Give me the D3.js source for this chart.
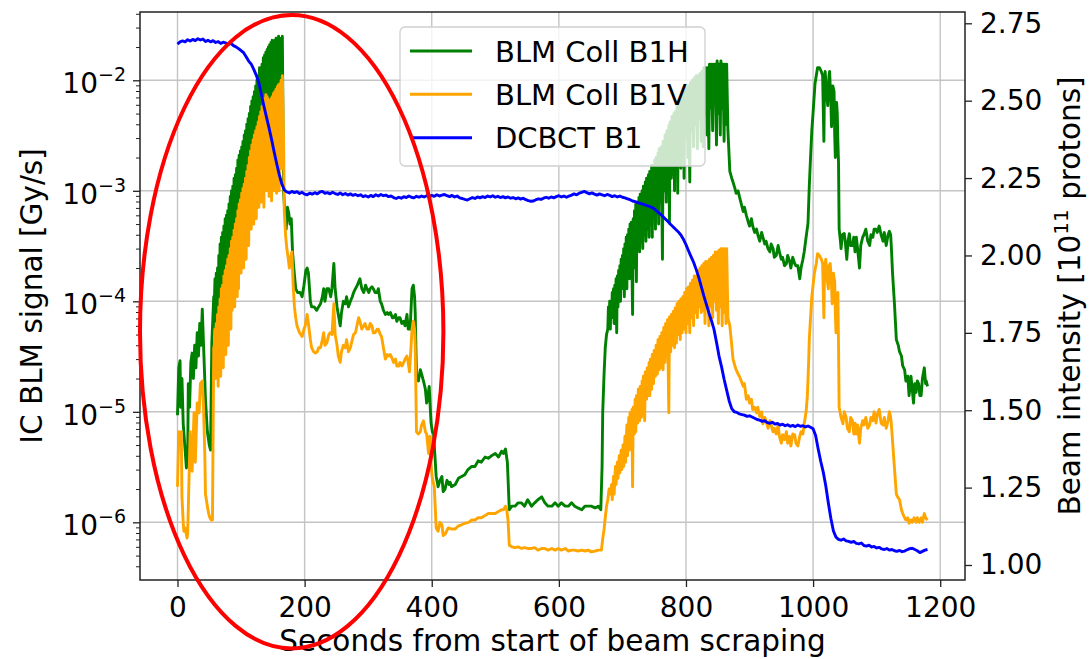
<!DOCTYPE html>
<html>
<head>
<meta charset="utf-8">
<script src="https://cdn.jsdelivr.net/npm/d3@7"></script>
<style>
  body { margin: 0; background: #ffffff; }
  svg { display: block; }
  text { font-family: "DejaVu Sans", sans-serif; fill: #000; }
</style>
</head>
<body>
<svg id="chart" width="1089" height="659"></svg>
<script>
// ---------------- data ----------------
const seriesNames = ["BLM Coll B1H", "BLM Coll B1V", "DCBCT B1"];
const seriesColors = ["#008000", "#ffa500", "#0000ff"];
const xTicks = [0, 200, 400, 600, 800, 1000, 1200];
const leftDecades = [1e-6, 1e-5, 1e-4, 1e-3, 1e-2];
const leftExponents = ["−6", "−5", "−4", "−3", "−2"];
const rightTicks = [1.00, 1.25, 1.50, 1.75, 2.00, 2.25, 2.50, 2.75];
const xLabel = "Seconds from start of beam scraping";
const yLeftLabel = "IC BLM signal [Gy/s]";

// BLM Coll B1H  [seconds, Gy/s]
const b1h = [
[0,9.3e-6],[2,2.5e-5],[4,2.9e-5],[5,1.1e-5],[7,2.0e-5],[9,7.8e-6],[12,4.5e-6],[14,3.1e-6],[16,3.5e-6],[17,1.8e-5],[19,1.1e-5],[21,2.8e-5],[23,3.4e-5],[25,2.0e-5],[27,4.0e-5],[29,2.5e-5],[31,5.2e-5],[33,3.2e-5],[35,6.3e-5],[37,4.0e-5],[39,8.5e-5],[41,4.0e-5],[44,1.3e-5],[47,6.6e-6],[50,5.0e-6],[52,4.5e-6],[54,4.2e-5],[56,7.9e-5],[57,1.1e-4],
[58,1.0e-4],[59,1.6e-4],[60,5.2e-5],[61,1.8e-4],[62,7.1e-5],[63,2.0e-4],[64,7.9e-5],[65,2.6e-4],[66,1.1e-4],[67,3.3e-4],[68,9.5e-5],[69,3.8e-4],[70,1.4e-4],[71,4.2e-4],[72,1.6e-4],[73,4.8e-4],[74,2.0e-4],[75,5.6e-4],[76,1.5e-4],[77,6.0e-4],[78,2.5e-4],[79,6.6e-4],[80,1.9e-4],[81,7.6e-4],[82,2.8e-4],[83,8.9e-4],[84,3.2e-4],[85,1.0e-3],[86,3.0e-4],[87,1.1e-3],[88,4.5e-4],[89,1.3e-3],[90,4.0e-4],[91,1.4e-3],[92,5.0e-4],[93,1.6e-3],[94,6.3e-4],[95,1.9e-3],[96,6.0e-4],[97,2.1e-3],[98,8.9e-4],[99,2.3e-3],[100,7.9e-4],[101,2.5e-3],[102,1.0e-3],[103,2.8e-3],[104,1.1e-3],[105,3.2e-3],[106,1.3e-3],[107,3.5e-3],[108,1.1e-3],[109,4.0e-3],[110,1.6e-3],[111,4.5e-3],[112,1.4e-3],[113,5.0e-3],[114,2.0e-3],[115,5.8e-3],[116,1.7e-3],[117,6.5e-3],[118,2.5e-3],[119,7.1e-3],[120,2.8e-3],[121,7.9e-3],[122,2.5e-3],[123,8.9e-3],[124,3.5e-3],[125,1.0e-2],[126,4.0e-3],[127,1.1e-2],[128,3.5e-3],[129,1.3e-2],[130,5.0e-3],[131,1.3e-2],[132,4.5e-3],[133,1.4e-2],[134,5.6e-3],[135,1.6e-2],[136,6.3e-3],[137,1.7e-2],[138,5.9e-3],[139,1.8e-2],[140,7.9e-3],[141,1.9e-2],[142,7.1e-3],[143,2.0e-2],[144,8.9e-3],[145,2.1e-2],[146,6.3e-3],[147,2.2e-2],[148,1.0e-2],[149,2.3e-2],[150,6.5e-3],[151,2.2e-2],[152,1.1e-2],[153,2.3e-2],[154,7.9e-3],[155,2.4e-2],[156,1.3e-2],[157,2.3e-2],[158,9.3e-3],[159,2.5e-2],[160,1.4e-2],[161,2.4e-2],[162,9.3e-3],[163,2.4e-2],[164,1.6e-2],[165,2.5e-2],
[166,4.0e-3],[167,9.5e-4],[169,6.3e-4],[171,4.5e-4],[173,7.1e-4],[175,6.3e-4],[177,5.0e-4],[179,5.6e-4],[181,2.8e-4],[183,2.0e-4],[186,1.3e-4],[189,1.2e-4],[193,1.2e-4],[196,1.1e-4],[199,1.4e-4],[202,1.9e-4],[204,2.0e-4],[206,1.8e-4],[209,1.0e-4],[211,8.9e-5],[215,8.9e-5],[219,8.3e-5],[222,8.9e-5],[225,9.5e-5],[228,1.1e-4],[230,1.3e-4],[232,1.0e-4],[235,1.3e-4],[238,1.3e-4],[241,1.1e-4],[243,1.3e-4],[246,2.2e-4],[248,1.3e-4],[251,8.9e-5],[253,7.6e-5],[256,6.0e-5],[258,7.9e-5],[261,1.0e-4],[264,9.5e-5],[266,1.1e-4],[269,8.9e-5],[272,1.0e-4],[275,1.1e-4],[277,1.2e-4],[280,1.3e-4],[283,1.4e-4],[285,1.5e-4],[287,1.6e-4],[290,1.3e-4],[293,1.2e-4],[296,1.4e-4],[298,1.3e-4],[301,1.2e-4],[303,1.3e-4],[306,1.35e-4],[308,1.3e-4],[311,1.2e-4],[314,1.2e-4],[316,1.3e-4],[319,1.0e-4],[321,9.5e-5],[324,8.3e-5],[327,7.6e-5],[330,7.9e-5],[332,7.6e-5],[335,7.9e-5],[338,7.1e-5],[340,7.1e-5],[343,7.6e-5],[345,6.6e-5],[348,7.1e-5],[350,7.1e-5],[353,6.3e-5],[356,6.6e-5],[358,6.0e-5],[361,7.6e-5],[363,5.6e-5],[366,5.6e-5],[368,1.0e-4],[369,1.3e-4],[371,1.4e-4],[373,1.1e-4],[374,7.9e-5],[376,2.1e-5],[379,1.9e-5],[382,2.4e-5],[384,2.2e-5],[387,1.9e-5],[390,1.6e-5],[392,1.2e-5],[394,1.4e-5],[396,1.7e-5],[398,1.0e-5],[399,7.9e-6],[401,6.6e-6],[403,6.3e-6],[405,4.0e-6],[407,2.6e-6],[410,2.1e-6],[413,2.4e-6],[416,2.6e-6],[418,1.9e-6],[421,2.0e-6],[424,2.4e-6],[427,2.2e-6],[429,2.3e-6],
[431,2.1e-6],[437,2.2e-6],[442,2.5e-6],[447,2.6e-6],[452,2.7e-6],[457,3.0e-6],[463,3.2e-6],[468,3.2e-6],[473,3.6e-6],[478,3.5e-6],[484,3.9e-6],[489,3.8e-6],[494,4.0e-6],[500,4.2e-6],[505,3.9e-6],[510,4.4e-6],[513,4.2e-6],[516,4.6e-6],[519,3.5e-6],[522,1.3e-6],[526,1.4e-6],[531,1.4e-6],[536,1.5e-6],[541,1.5e-6],[546,1.4e-6],[551,1.6e-6],[557,1.4e-6],[562,1.5e-6],[567,1.6e-6],[573,1.7e-6],[578,1.5e-6],[583,1.4e-6],[589,1.4e-6],[594,1.5e-6],[599,1.4e-6],[604,1.5e-6],[610,1.4e-6],[615,1.4e-6],[620,1.5e-6],[625,1.4e-6],[630,1.35e-6],[636,1.3e-6],[641,1.4e-6],[646,1.4e-6],[651,1.4e-6],[657,1.35e-6],[662,1.4e-6],[666,1.3e-6],[668,3.2e-6],[669,9.8e-6],[671,2.1e-5],[673,3.8e-5],[675,5.0e-5],[677,5.6e-5],
[678,8.9e-5],[679,6.3e-5],[680,1.0e-4],[681,5.6e-5],[682,1.0e-4],[683,7.1e-5],[684,1.2e-4],[685,7.9e-5],[686,1.3e-4],[687,6.3e-5],[688,1.4e-4],[689,8.9e-5],[690,1.6e-4],[691,5.2e-5],[692,1.7e-4],[693,8.9e-5],[694,1.9e-4],[695,1.1e-4],[696,2.1e-4],[697,1.0e-4],[698,2.4e-4],[699,1.3e-4],[700,2.6e-4],[701,1.4e-4],[702,3.0e-4],[703,1.1e-4],[704,3.3e-4],[705,1.6e-4],[706,3.8e-4],[707,1.3e-4],[708,4.0e-4],[709,1.8e-4],[710,4.5e-4],[711,1.6e-4],[712,5.0e-4],[713,2.2e-4],[714,5.2e-4],[716,7.6e-5],[717,5.6e-4],[718,2.0e-4],[719,6.6e-4],[720,2.5e-4],[721,7.6e-4],[722,1.5e-4],[723,7.9e-4],[725,3.2e-4],[726,8.7e-4],[727,2.8e-4],[728,9.3e-4],[730,3.5e-4],[731,1.0e-3],[732,3.0e-4],[733,1.1e-3],[735,4.0e-4],[736,1.2e-3],[737,3.5e-4],[738,1.3e-3],[740,4.5e-4],[741,1.4e-3],[742,3.8e-4],[743,1.5e-3],[745,5.0e-4],[746,1.7e-3],[747,3.8e-4],[748,1.7e-3],[750,6.3e-4],[751,1.9e-3],[752,4.5e-4],[753,2.0e-3],[755,6.3e-4],[756,2.2e-3],[757,5.0e-4],[758,2.4e-3],[760,7.9e-4],[761,2.5e-3],[763,2.4e-4],[764,2.8e-3],[766,1.0e-3],[767,3.2e-3],[769,7.9e-4],[770,3.5e-3],[772,1.1e-3],[773,3.9e-3],[774,5.1e-4],[775,4.2e-3],[777,1.3e-3],[778,4.7e-3],[780,1.4e-3],[781,5.0e-3],[782,1.0e-3],[783,5.2e-3],[785,1.8e-3],[786,5.8e-3],[787,9.5e-4],[788,6.3e-3],[790,2.0e-3],[791,6.8e-3],[792,1.6e-3],[793,7.2e-3],[795,2.5e-3],[796,7.6e-3],[797,1.3e-3],[798,7.9e-3],[800,3.2e-3],[801,8.5e-3],[803,2.0e-3],[804,8.9e-3],[806,1.2e-3],[807,9.5e-3],[809,3.5e-3],[810,1.0e-2],[812,2.5e-3],[813,1.05e-2],[815,4.0e-3],[816,1.1e-2],[818,2.4e-3],[819,1.1e-2],[821,4.5e-3],[822,1.15e-2],[824,2.8e-3],[825,1.2e-2],[827,2.5e-3],[828,1.3e-2],[830,5.0e-3],[831,1.3e-2],[833,3.2e-3],[834,1.3e-2],[836,2.4e-3],[837,1.4e-2],[839,5.6e-3],[840,1.4e-2],[842,3.5e-3],[843,1.4e-2],[845,6.3e-3],[846,1.4e-2],[848,2.6e-3],[849,1.5e-2],[851,5.0e-3],[852,1.4e-2],[854,3.2e-3],[855,1.5e-2],[857,5.6e-3],[858,1.4e-2],[860,2.8e-3],[861,1.4e-2],[863,4.0e-3],[864,1.4e-2],[866,3.5e-3],
[869,1.5e-3],[872,1.3e-3],[874,1.2e-3],[877,1.05e-3],[879,9.5e-4],[882,1.0e-3],[884,8.9e-4],[887,7.6e-4],[890,6.5e-4],[892,7.1e-4],[895,6.0e-4],[898,5.2e-4],[900,4.8e-4],[903,5.6e-4],[905,4.8e-4],[908,4.2e-4],[911,4.5e-4],[913,4.0e-4],[916,3.5e-4],[919,4.2e-4],[921,3.8e-4],[924,3.3e-4],[926,3.5e-4],[929,3.0e-4],[932,2.8e-4],[934,3.3e-4],[937,3.0e-4],[939,2.5e-4],[942,2.6e-4],[945,3.2e-4],[947,2.8e-4],[950,2.4e-4],[952,2.5e-4],[955,2.1e-4],[958,2.2e-4],[960,2.6e-4],[963,2.3e-4],[965,2.0e-4],[968,2.5e-4],[971,2.2e-4],[973,2.1e-4],[976,2.1e-4],[979,1.6e-4],[981,2.0e-4],[984,2.4e-4],[986,2.8e-4],[989,3.8e-4],[992,5.1e-4],[994,1.1e-3],[996,2.0e-3],[998,3.5e-3],[1000,5.1e-3],[1002,7.6e-3],[1003,9.3e-3],[1005,1.1e-2],[1007,1.3e-2],[1010,1.3e-2],[1013,1.2e-2],[1015,1.1e-2],[1017,2.8e-3],[1018,1.0e-2],[1019,1.2e-2],[1021,7.9e-3],[1023,5.9e-3],[1025,1.1e-2],[1026,1.2e-2],[1028,6.3e-3],[1029,3.8e-3],[1031,8.9e-3],[1033,7.9e-3],[1034,3.2e-3],[1035,2.0e-3],[1037,6.3e-3],[1038,5.1e-3],[1039,2.8e-3],[1040,1.8e-3],[1041,4.5e-4],[1043,3.5e-4],[1044,3.0e-4],[1046,4.0e-4],[1049,4.1e-4],[1051,3.3e-4],[1053,2.4e-4],[1055,3.5e-4],[1057,4.1e-4],[1059,3.2e-4],[1062,3.2e-4],[1064,3.8e-4],[1066,2.8e-4],[1068,3.8e-4],[1070,3.0e-4],[1073,2.0e-4],[1075,3.2e-4],[1078,3.8e-4],[1080,4.0e-4],[1083,4.5e-4],[1086,3.5e-4],[1089,3.2e-4],[1091,4.0e-4],[1094,3.8e-4],[1096,4.5e-4],[1099,4.5e-4],[1101,4.2e-4],[1104,4.8e-4],[1107,4.0e-4],[1110,3.5e-4],[1112,4.2e-4],[1115,3.2e-4],[1118,4.0e-4],[1120,4.3e-4],[1122,4.0e-4],[1123,3.2e-4],[1125,1.8e-4],[1128,9.5e-5],[1131,4.5e-5],[1134,4.0e-5],[1136,3.5e-5],[1139,3.2e-5],[1141,2.6e-5],[1144,2.4e-5],[1146,1.9e-5],[1149,2.1e-5],[1151,1.4e-5],[1153,1.8e-5],[1154,2.1e-5],[1156,1.6e-5],[1158,1.2e-5],[1160,1.8e-5],[1162,1.5e-5],[1164,1.9e-5],[1166,1.8e-5],[1168,1.4e-5],[1170,1.4e-5],[1172,2.0e-5],[1175,2.5e-5],[1177,1.8e-5],[1178,1.9e-5],[1180,1.7e-5]
];

// BLM Coll B1V  [seconds, Gy/s]
const b1v = [
[0,2.1e-6],[2,6.6e-6],[4,5.0e-6],[6,6.6e-6],[7,1.7e-6],[9,1.0e-6],[10,8.3e-7],[12,8.9e-7],[15,7.2e-7],[16,7.9e-7],[18,2.3e-6],[20,6.6e-6],[23,2.9e-6],[26,9.8e-6],[28,3.5e-6],[31,1.2e-5],[34,9.8e-6],[36,1.8e-5],[39,1.9e-5],[41,1.1e-5],[43,4.0e-6],[44,1.8e-6],[47,1.4e-6],[49,1.2e-6],[51,1.1e-6],[53,1.05e-6],[55,1.05e-6],[56,6.3e-6],[57,3.8e-5],
[58,4.0e-5],[59,5.6e-5],[60,2.0e-5],[61,6.3e-5],[62,2.5e-5],[63,7.6e-5],[64,1.7e-5],[65,8.9e-5],[66,3.2e-5],[67,1.05e-4],[68,2.1e-5],[69,1.3e-4],[70,4.0e-5],[71,1.4e-4],[72,2.5e-5],[73,1.7e-4],[74,5.0e-5],[75,1.9e-4],[76,3.3e-5],[77,2.1e-4],[78,6.3e-5],[79,2.4e-4],[80,4.0e-5],[81,2.6e-4],[82,7.9e-5],[83,3.0e-4],[84,5.6e-5],[85,3.5e-4],[86,8.3e-5],[87,3.8e-4],[88,1.3e-4],[89,4.4e-4],[90,8.9e-5],[91,5.0e-4],[92,1.6e-4],[93,5.6e-4],[94,1.1e-4],[95,6.6e-4],[96,1.3e-4],[97,7.6e-4],[98,2.5e-4],[99,8.3e-4],[100,1.8e-4],[101,9.5e-4],[102,3.2e-4],[103,1.05e-3],[104,2.0e-4],[105,1.15e-3],[106,3.5e-4],[107,1.3e-3],[108,2.4e-4],[109,1.5e-3],[110,5.0e-4],[111,1.7e-3],[112,3.2e-4],[113,2.0e-3],[114,6.3e-4],[115,2.3e-3],[116,4.5e-4],[117,2.6e-3],[118,7.9e-4],[119,2.9e-3],[120,5.0e-4],[121,3.2e-3],[122,8.9e-4],[123,3.5e-3],[124,5.6e-4],[125,3.8e-3],[126,1.1e-3],[127,4.2e-3],[128,7.1e-4],[129,4.7e-3],[130,1.3e-3],[131,5.2e-3],[132,7.9e-4],[133,5.8e-3],[134,1.4e-3],[135,6.3e-3],[136,7.1e-4],[137,6.9e-3],[138,2.0e-3],[139,7.4e-3],[140,1.0e-3],[141,7.1e-3],[142,1.6e-3],[143,6.6e-3],[144,8.9e-4],[145,6.5e-3],[146,1.8e-3],[147,6.8e-3],[148,8.1e-4],[149,7.1e-3],[150,2.0e-3],[151,7.6e-3],[152,1.0e-3],[153,7.9e-3],[154,2.2e-3],[155,8.3e-3],[156,9.5e-4],[157,8.7e-3],[158,2.0e-3],[159,9.1e-3],[160,1.0e-3],[161,9.3e-3],[162,2.5e-3],[163,1.0e-2],[164,1.6e-3],[165,1.1e-2],
[167,2.5e-3],[168,6.5e-4],[170,4.0e-4],[172,3.0e-4],[174,2.5e-4],[176,2.0e-4],[178,2.5e-4],[180,2.8e-4],[182,1.4e-4],[184,8.9e-5],[186,7.1e-5],[188,6.0e-5],[192,5.2e-5],[196,4.8e-5],[199,5.6e-5],[201,6.0e-5],[204,7.6e-5],[206,6.3e-5],[209,4.5e-5],[211,3.8e-5],[214,3.5e-5],[217,3.4e-5],[220,3.5e-5],[222,3.8e-5],[225,3.8e-5],[228,4.5e-5],[230,5.2e-5],[232,4.0e-5],[235,4.2e-5],[238,5.0e-5],[240,5.2e-5],[243,5.0e-5],[246,9.5e-5],[248,5.0e-5],[251,4.0e-5],[253,3.2e-5],[256,2.8e-5],[258,3.5e-5],[261,4.0e-5],[264,3.8e-5],[266,4.5e-5],[269,3.5e-5],[272,3.8e-5],[275,4.5e-5],[277,5.0e-5],[280,5.2e-5],[283,6.3e-5],[285,7.1e-5],[287,6.6e-5],[290,5.6e-5],[293,6.0e-5],[295,6.3e-5],[298,5.6e-5],[301,5.6e-5],[303,6.3e-5],[306,6.0e-5],[308,5.2e-5],[311,5.2e-5],[314,5.6e-5],[316,5.6e-5],[319,5.0e-5],[321,4.8e-5],[324,3.8e-5],[327,3.0e-5],[330,3.3e-5],[332,3.2e-5],[335,3.3e-5],[338,3.0e-5],[340,2.8e-5],[343,3.0e-5],[345,2.6e-5],[348,2.6e-5],[350,2.8e-5],[353,2.6e-5],[356,2.8e-5],[358,3.0e-5],[361,3.2e-5],[363,2.8e-5],[365,2.3e-5],[367,3.5e-5],[369,5.6e-5],[371,6.6e-5],[373,5.6e-5],[374,4.0e-5],[376,6.6e-6],[379,6.3e-6],[382,6.6e-6],[384,7.6e-6],[387,8.3e-6],[390,6.6e-6],[392,6.3e-6],[395,4.2e-6],[397,6.0e-6],[399,3.2e-6],[401,2.5e-6],[404,2.1e-6],[407,8.9e-7],[410,8.3e-7],[413,1.0e-6],[416,9.5e-7],[418,7.6e-7],[421,7.8e-7],
[426,8.9e-7],[431,8.7e-7],[437,8.7e-7],[442,9.3e-7],[447,9.5e-7],[452,9.8e-7],[458,1.0e-6],[463,1.05e-6],[468,1.05e-6],[473,1.1e-6],[478,1.1e-6],[484,1.15e-6],[489,1.2e-6],[494,1.2e-6],[500,1.2e-6],[505,1.25e-6],[510,1.3e-6],[513,1.3e-6],[516,1.4e-6],[518,1.3e-6],[520,1.05e-6],[522,6.2e-7],[526,6.0e-7],[531,5.9e-7],[536,6.0e-7],[541,5.8e-7],[546,5.9e-7],[551,5.8e-7],[557,5.8e-7],[562,5.9e-7],[567,5.6e-7],[573,5.8e-7],[578,5.8e-7],[583,5.6e-7],[589,5.8e-7],[594,5.6e-7],[599,5.8e-7],[604,5.6e-7],[610,5.8e-7],[615,5.5e-7],[620,5.6e-7],[625,5.6e-7],[630,5.5e-7],[636,5.6e-7],[641,5.5e-7],[646,5.6e-7],[651,5.4e-7],[657,5.5e-7],[662,5.6e-7],[667,5.6e-7],[669,7.1e-7],[671,8.5e-7],[673,1.1e-6],[675,1.4e-6],[677,1.6e-6],[679,2.0e-6],[681,1.8e-6],
[683,2.2e-6],[684,1.6e-6],[686,2.6e-6],[687,1.8e-6],[689,3.2e-6],[690,2.2e-6],[692,3.5e-6],[693,2.5e-6],[695,4.0e-6],[696,2.8e-6],[698,4.5e-6],[699,3.0e-6],[701,5.0e-6],[702,3.2e-6],[704,6.0e-6],[705,3.5e-6],[707,7.6e-6],[708,4.0e-6],[710,8.9e-6],[711,4.5e-6],[712,9.8e-6],[714,5.0e-6],[715,1.05e-5],[716,2.1e-6],[717,1.1e-5],[719,6.3e-6],[720,1.3e-5],[721,6.6e-6],[722,1.4e-5],[724,7.9e-6],[725,1.6e-5],[727,8.3e-6],[728,1.7e-5],[730,8.9e-6],[731,1.9e-5],[732,1.05e-5],[733,2.1e-5],[735,8.3e-6],[736,2.3e-5],[738,1.3e-5],[739,2.5e-5],[741,1.4e-5],[742,2.8e-5],[743,1.4e-5],[744,3.0e-5],[746,1.6e-5],[747,3.3e-5],[749,1.8e-5],[750,3.6e-5],[752,2.1e-5],[753,4.0e-5],[755,2.2e-5],[756,4.5e-5],[758,2.4e-5],[759,4.8e-5],[761,2.5e-5],[762,5.2e-5],[764,2.4e-5],[765,5.8e-5],[767,2.8e-5],[768,6.3e-5],[770,3.2e-5],[771,6.8e-5],[773,9.8e-6],[774,7.2e-5],[776,3.5e-5],[777,7.6e-5],[779,4.0e-5],[780,8.1e-5],[782,3.8e-5],[783,8.7e-5],[785,4.2e-5],[786,9.5e-5],[788,5.0e-5],[789,1.0e-4],[791,4.5e-5],[792,1.05e-4],[794,5.2e-5],[795,1.1e-4],[797,5.6e-5],[798,1.2e-4],[800,5.2e-5],[801,1.3e-4],[803,6.3e-5],[804,1.35e-4],[806,5.2e-5],[807,1.45e-4],[809,7.1e-5],[810,1.55e-4],[812,6.0e-5],[813,1.7e-4],[815,7.9e-5],[816,1.7e-4],[818,7.1e-5],[819,1.9e-4],[821,8.9e-5],[822,2.0e-4],[824,7.9e-5],[825,2.1e-4],[827,8.3e-5],[828,2.2e-4],[830,6.3e-5],[831,2.3e-4],[833,1.0e-4],[834,2.3e-4],[836,6.0e-5],[837,2.4e-4],[839,8.9e-5],[840,2.5e-4],[842,7.1e-5],[843,2.6e-4],[845,1.0e-4],[846,2.8e-4],[848,8.3e-5],[849,2.8e-4],[851,6.3e-5],[852,2.9e-4],[854,8.9e-5],[855,3.0e-4],[857,6.0e-5],[858,3.0e-4],[860,7.9e-5],[861,3.0e-4],[863,6.3e-5],[864,3.0e-4],[866,7.1e-5],
[869,6.0e-5],[872,4.0e-5],[874,3.0e-5],[877,2.6e-5],[879,2.4e-5],[882,2.2e-5],[884,2.1e-5],[887,1.9e-5],[890,1.7e-5],[892,1.8e-5],[895,1.3e-5],[898,1.4e-5],[900,1.2e-5],[903,1.3e-5],[905,1.05e-5],[908,1.1e-5],[911,9.8e-6],[913,1.1e-5],[916,9.1e-6],[919,1.0e-5],[921,7.8e-6],[924,8.9e-6],[926,8.3e-6],[929,7.1e-6],[932,8.3e-6],[934,7.6e-6],[937,6.6e-6],[939,7.1e-6],[942,6.3e-6],[945,7.6e-6],[947,6.0e-6],[950,5.2e-6],[952,6.2e-6],[955,5.6e-6],[958,6.6e-6],[960,5.2e-6],[963,6.0e-6],[965,4.9e-6],[968,6.3e-6],[971,6.2e-6],[973,5.2e-6],[976,4.9e-6],[979,6.0e-6],[981,6.6e-6],[984,6.3e-6],[986,7.8e-6],[989,1.0e-5],[991,1.4e-5],[993,2.8e-5],[994,4.5e-5],[996,7.1e-5],[998,1.1e-4],[1000,1.4e-4],[1002,1.8e-4],[1005,2.2e-4],[1007,2.7e-4],[1010,2.6e-4],[1013,2.4e-4],[1015,2.2e-4],[1017,7.1e-5],[1018,2.0e-4],[1020,2.4e-4],[1022,1.6e-4],[1024,1.3e-4],[1025,2.1e-4],[1027,2.2e-4],[1029,1.4e-4],[1030,9.5e-5],[1032,1.8e-4],[1034,1.5e-4],[1035,7.9e-5],[1036,5.2e-5],[1038,1.1e-4],[1039,1.2e-4],[1040,4.0e-5],[1041,1.1e-5],[1044,8.9e-6],[1047,7.8e-6],[1049,1.0e-5],[1052,8.9e-6],[1054,7.1e-6],[1057,6.6e-6],[1059,8.9e-6],[1062,8.3e-6],[1064,6.3e-6],[1066,7.9e-6],[1068,6.3e-6],[1070,7.6e-6],[1073,5.2e-6],[1075,7.1e-6],[1078,8.3e-6],[1080,7.6e-6],[1083,8.9e-6],[1086,7.1e-6],[1089,7.6e-6],[1091,8.9e-6],[1094,8.3e-6],[1096,1.0e-5],[1099,7.9e-6],[1101,9.5e-6],[1104,1.05e-5],[1107,7.9e-6],[1110,7.6e-6],[1112,8.9e-6],[1115,7.1e-6],[1118,8.3e-6],[1120,1.0e-5],[1122,8.9e-6],[1123,7.9e-6],[1126,4.5e-6],[1128,3.1e-6],[1131,1.8e-6],[1133,1.7e-6],[1136,1.6e-6],[1139,1.3e-6],[1141,1.2e-6],[1144,1.1e-6],[1146,1.05e-6],[1149,1.1e-6],[1151,9.8e-7],[1154,1.05e-6],[1156,1.0e-6],[1159,1.1e-6],[1162,1.0e-6],[1164,1.1e-6],[1167,1.0e-6],[1170,1.1e-6],[1172,1.0e-6],[1175,1.2e-6],[1177,1.1e-6],[1180,1.05e-6]
];

// DCBCT B1  [seconds, 1e11 protons]
const dcbct = [
[0,2.683],[4,2.690],[8,2.693],[12,2.690],[16,2.697],[20,2.693],[24,2.698],[28,2.694],[32,2.700],[36,2.696],[40,2.699],[44,2.691],[48,2.695],[52,2.690],[56,2.694],[60,2.688],[64,2.691],[68,2.685],[72,2.689],[76,2.686],[80,2.682],[84,2.685],[88,2.678],[92,2.674],[96,2.668],[100,2.662],[104,2.655],[108,2.642],[112,2.628],[116,2.618],[120,2.601],[124,2.582],[128,2.558],[132,2.520],[136,2.482],[140,2.447],[144,2.412],[148,2.375],[152,2.335],[156,2.297],[160,2.262],[164,2.232],[168,2.212],[172,2.205],[176,2.202],[180,2.207],[184,2.203],[188,2.206],[192,2.200],[196,2.204],[200,2.198],[204,2.196],[208,2.201],[212,2.198],[216,2.203],[220,2.199],[224,2.205],[228,2.207],[232,2.201],[236,2.203],[240,2.199],[244,2.204],[248,2.200],[252,2.197],[256,2.202],[260,2.196],[264,2.200],[268,2.195],[272,2.199],[276,2.194],[280,2.197],[284,2.193],[288,2.196],[292,2.190],[296,2.193],[300,2.189],[304,2.194],[308,2.190],[312,2.196],[316,2.192],[320,2.197],[324,2.193],[328,2.195],[332,2.190],[336,2.192],[340,2.187],[344,2.184],[348,2.188],[352,2.185],[356,2.190],[360,2.187],[364,2.192],[368,2.188],[372,2.186],[376,2.191],[380,2.188],[384,2.192],[388,2.189],[392,2.193],[396,2.190],[400,2.194],[404,2.191],[408,2.196],[412,2.192],[416,2.195],[420,2.197],[424,2.193],[428,2.190],[432,2.194],[436,2.189],[440,2.192],[444,2.186],[448,2.184],[452,2.181],[456,2.179],[460,2.183],[464,2.187],[468,2.184],[472,2.189],[476,2.186],[480,2.190],[484,2.187],[488,2.192],[492,2.189],[496,2.193],[500,2.188],[504,2.191],[508,2.187],[512,2.190],[516,2.186],[520,2.189],[524,2.185],[528,2.187],[532,2.183],[536,2.186],[540,2.182],[544,2.185],[548,2.180],[552,2.177],[556,2.175],[560,2.176],[564,2.180],[568,2.183],[572,2.181],[576,2.185],[580,2.188],[584,2.185],[588,2.189],[592,2.186],[596,2.190],[600,2.193],[604,2.189],[608,2.192],[612,2.188],[616,2.192],[620,2.195],[624,2.199],[628,2.196],[632,2.201],[636,2.204],[640,2.207],[644,2.203],[648,2.199],[652,2.202],[656,2.198],[660,2.195],[664,2.199],[668,2.196],[672,2.193],[676,2.197],[680,2.194],[684,2.190],[688,2.193],[692,2.189],[696,2.192],[700,2.188],[704,2.186],[708,2.183],[712,2.180],[716,2.176],[720,2.174],[724,2.171],[728,2.168],[732,2.166],[736,2.163],[740,2.160],[744,2.157],[748,2.154],[752,2.147],[756,2.140],[760,2.133],[764,2.125],[768,2.117],[772,2.109],[776,2.100],[780,2.092],[784,2.084],[788,2.076],[792,2.066],[796,2.052],[800,2.035],[804,2.015],[808,1.996],[812,1.978],[816,1.955],[820,1.930],[824,1.900],[828,1.870],[832,1.843],[836,1.815],[840,1.790],[844,1.762],[848,1.720],[852,1.675],[856,1.640],[860,1.600],[864,1.565],[868,1.530],[872,1.505],[876,1.495],[880,1.493],[884,1.488],[888,1.486],[892,1.484],[896,1.480],[900,1.482],[904,1.478],[908,1.474],[912,1.470],[916,1.468],[920,1.464],[924,1.466],[928,1.460],[932,1.458],[936,1.461],[940,1.455],[944,1.457],[948,1.452],[952,1.455],[956,1.450],[960,1.453],[964,1.448],[968,1.451],[972,1.447],[976,1.452],[980,1.448],[984,1.450],[988,1.446],[992,1.449],[996,1.445],[1000,1.440],[1004,1.418],[1008,1.375],[1012,1.335],[1016,1.300],[1020,1.255],[1024,1.200],[1028,1.150],[1032,1.110],[1036,1.090],[1040,1.083],[1044,1.080],[1048,1.084],[1052,1.078],[1056,1.076],[1060,1.073],[1064,1.076],[1068,1.070],[1072,1.068],[1076,1.071],[1080,1.063],[1084,1.061],[1088,1.064],[1092,1.058],[1096,1.060],[1100,1.055],[1104,1.057],[1108,1.052],[1112,1.050],[1116,1.053],[1120,1.048],[1124,1.050],[1128,1.046],[1132,1.044],[1136,1.047],[1140,1.043],[1144,1.045],[1148,1.049],[1152,1.053],[1156,1.054],[1160,1.050],[1164,1.046],[1168,1.040],[1172,1.044],[1176,1.048],[1180,1.050]
];

// ---------------- layout ----------------
const W = 1089, H = 659;
const P = { left: 140, right: 965, top: 12, bottom: 580 };
const TICK_FS = 28, LABEL_FS = 29.5, LEGEND_FS = 29;

const svg = d3.select("#chart");
svg.append("rect").attr("width", W).attr("height", H).attr("fill", "#fff");

const x = d3.scaleLinear().domain([-59, 1239]).range([P.left, P.right]);
const yL = d3.scaleLog().domain([3.006e-7, 4.15e-2]).range([P.bottom, P.top]);
const yR = d3.scaleLinear().domain([0.9515, 2.7865]).range([P.bottom, P.top]);

// grid
const grid = svg.append("g").attr("stroke", "#c4c4c4").attr("stroke-width", 1.4);
grid.selectAll("line.v").data(xTicks).join("line")
  .attr("x1", d => x(d)).attr("x2", d => x(d))
  .attr("y1", P.top).attr("y2", P.bottom);
grid.selectAll("line.h").data(leftDecades).join("line")
  .attr("x1", P.left).attr("x2", P.right)
  .attr("y1", d => yL(d)).attr("y2", d => yL(d));

// clip
svg.append("clipPath").attr("id", "plotclip").append("rect")
  .attr("x", P.left).attr("y", P.top)
  .attr("width", P.right - P.left).attr("height", P.bottom - P.top);

const plot = svg.append("g").attr("clip-path", "url(#plotclip)");
const lineL = d3.line().x(d => x(d[0])).y(d => yL(d[1]));
const lineR = d3.line().x(d => x(d[0])).y(d => yR(d[1]));

[[b1h, 0], [b1v, 1]].forEach(([data, i]) => {
  plot.append("path").datum(data)
    .attr("d", lineL).attr("fill", "none")
    .attr("stroke", seriesColors[i]).attr("stroke-width", 2.9)
    .attr("stroke-linejoin", "round");
});
plot.append("path").datum(dcbct)
  .attr("d", lineR).attr("fill", "none")
  .attr("stroke", seriesColors[2]).attr("stroke-width", 2.9)
  .attr("stroke-linejoin", "round");

// axes
function styleAxis(g) {
  g.select(".domain").remove();
  g.selectAll(".tick line").attr("stroke", "#222").attr("stroke-width", 1.3);
  g.selectAll(".tick text").attr("font-size", TICK_FS).attr("fill", "#000")
    .attr("font-family", "DejaVu Sans, sans-serif");
}

const xAxis = svg.append("g").attr("transform", `translate(0,${P.bottom})`)
  .call(d3.axisBottom(x).tickValues(xTicks).tickFormat(d3.format("d"))
    .tickSize(7).tickPadding(10).tickSizeOuter(0));
styleAxis(xAxis);

const minorVals = [];
for (let k = -7; k <= -2; k++) for (let m = 2; m <= 9; m++) {
  const v = m * Math.pow(10, k);
  if (v >= yL.domain()[0] && v <= yL.domain()[1]) minorVals.push(v);
}
const yMinor = svg.append("g").attr("transform", `translate(${P.left},0)`)
  .call(d3.axisLeft(yL).tickValues(minorVals).tickFormat("").tickSize(4).tickSizeOuter(0));
styleAxis(yMinor);
yMinor.selectAll(".tick line").attr("stroke-width", 1.0);

const yMajor = svg.append("g").attr("transform", `translate(${P.left},0)`)
  .call(d3.axisLeft(yL).tickValues(leftDecades).tickFormat("").tickSize(7).tickSizeOuter(0));
styleAxis(yMajor);
yMajor.selectAll(".tick").each(function(d, i) {
  const t = d3.select(this).append("text")
    .attr("x", -14).attr("y", 12.4).attr("text-anchor", "end")
    .attr("font-size", TICK_FS).attr("fill", "#000");
  t.append("tspan").text("10");
  t.append("tspan").attr("font-size", 19).attr("dy", -12).text(leftExponents[i]);
});

const yRight = svg.append("g").attr("transform", `translate(${P.right},0)`)
  .call(d3.axisRight(yR).tickValues(rightTicks).tickFormat(d3.format(".2f"))
    .tickSize(7).tickPadding(8).tickSizeOuter(0));
styleAxis(yRight);

// frame (spines)
svg.append("rect")
  .attr("x", P.left).attr("y", P.top)
  .attr("width", P.right - P.left).attr("height", P.bottom - P.top)
  .attr("fill", "none").attr("stroke", "#222").attr("stroke-width", 1.5);

// axis labels
svg.append("text").attr("x", (P.left + P.right) / 2).attr("y", 651)
  .attr("text-anchor", "middle").attr("font-size", LABEL_FS).text(xLabel);
svg.append("text").attr("transform", `translate(41.5,${(P.top + P.bottom) / 2}) rotate(-90)`)
  .attr("text-anchor", "middle").attr("font-size", LABEL_FS).text(yLeftLabel);
const rl = svg.append("text").attr("transform", `translate(1080,${(P.top + P.bottom) / 2}) rotate(-90)`)
  .attr("text-anchor", "middle").attr("font-size", LABEL_FS);
rl.append("tspan").text("Beam intensity [10");
rl.append("tspan").attr("font-size", 20).attr("dy", -12).text("11");
rl.append("tspan").attr("dy", 12).text(" protons]");

// legend
const lg = svg.append("g");
lg.append("rect").attr("x", 400).attr("y", 27).attr("width", 305).attr("height", 139)
  .attr("rx", 5).attr("fill", "#fff").attr("fill-opacity", 0.8)
  .attr("stroke", "#d0d0d0").attr("stroke-width", 1.3);
const rowsY = [51, 94.3, 137.7];
seriesNames.forEach((name, i) => {
  lg.append("line").attr("x1", 410).attr("x2", 472)
    .attr("y1", rowsY[i]).attr("y2", rowsY[i])
    .attr("stroke", seriesColors[i]).attr("stroke-width", 2.9);
  lg.append("text").attr("x", 495).attr("y", rowsY[i] + 10.6)
    .attr("font-size", LEGEND_FS).text(name);
});

// red annotation ellipse
svg.append("ellipse").attr("cx", 291.7).attr("cy", 331.7)
  .attr("rx", 151.7).attr("ry", 316.7)
  .attr("fill", "none").attr("stroke", "#ff0000").attr("stroke-width", 4);
</script>
</body>
</html>
